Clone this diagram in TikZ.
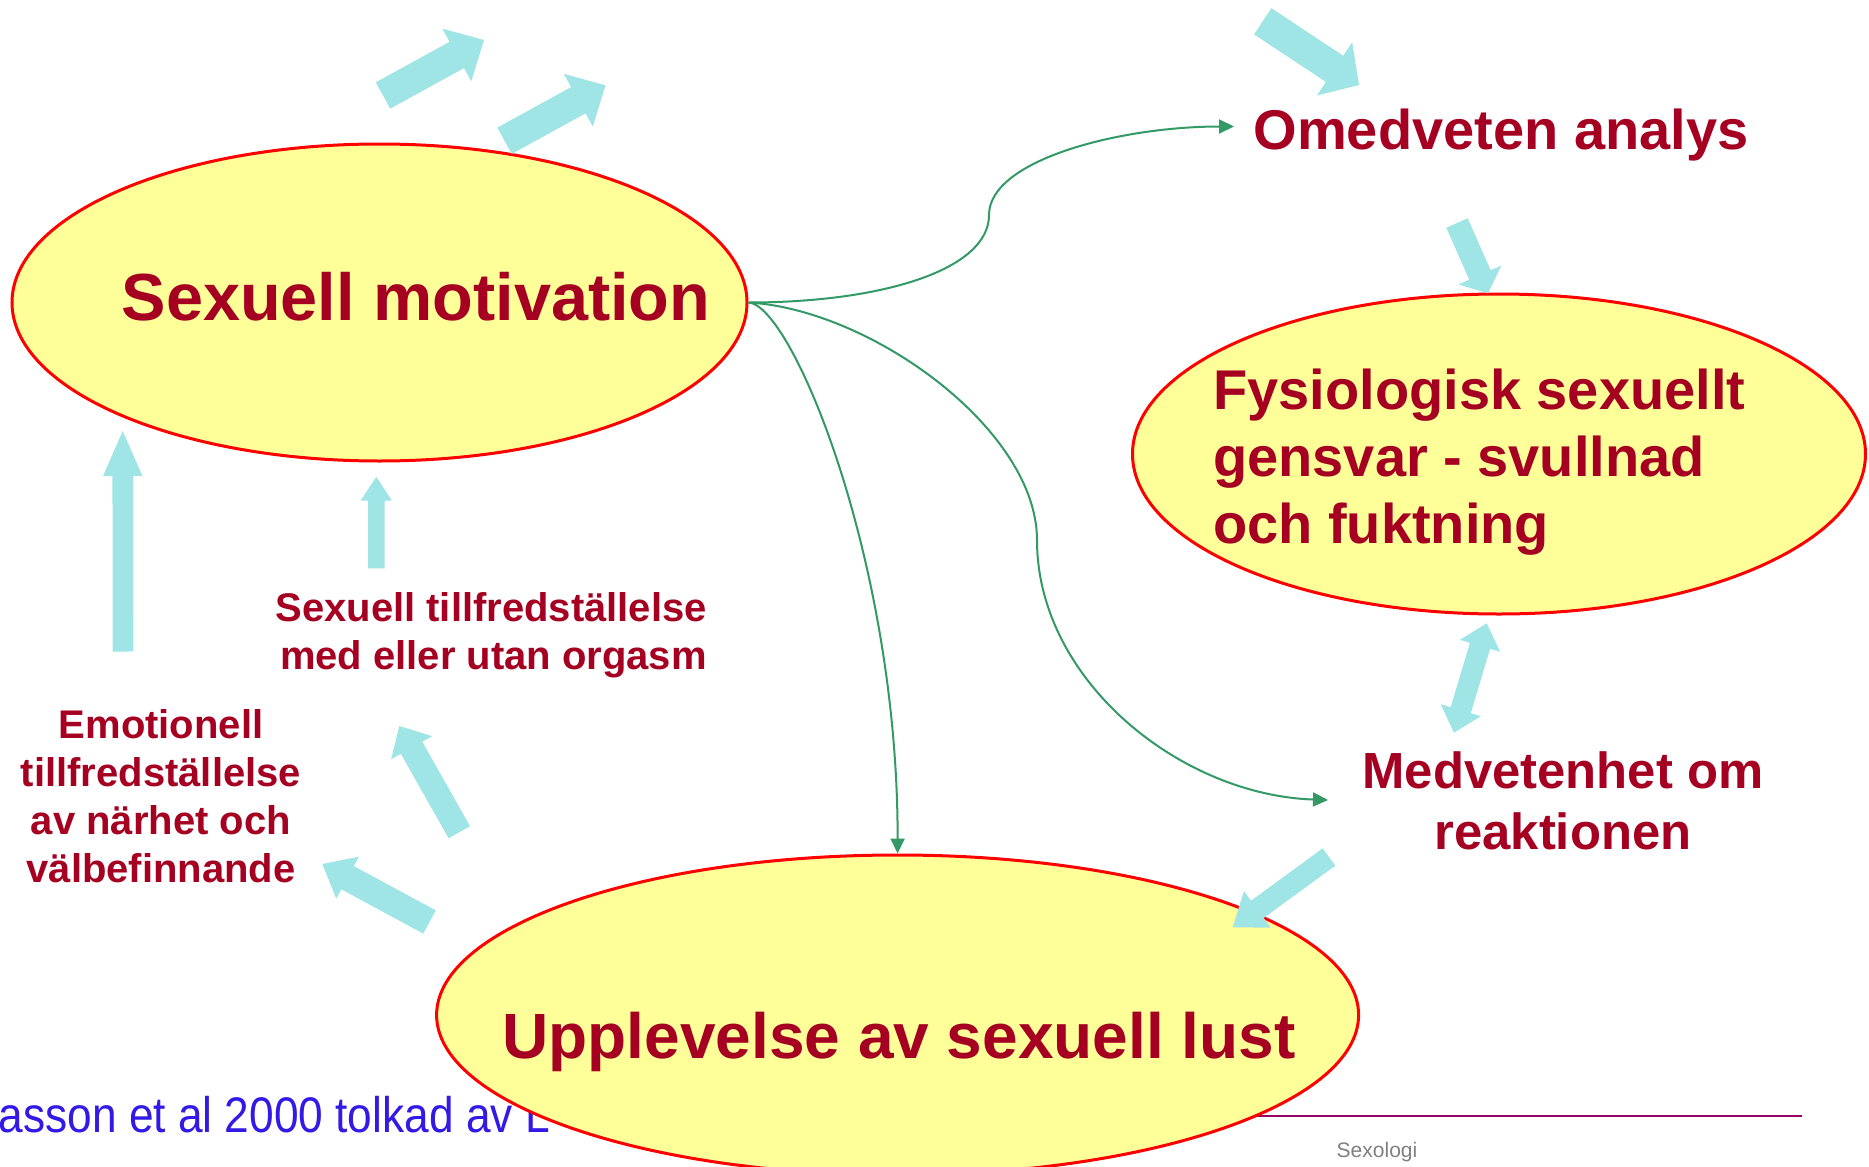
\documentclass[tikz,border=0pt]{standalone}
\usepackage{fontspec}
\setmainfont{Liberation Sans}
\usetikzlibrary{shapes.geometric,arrows.meta,calc}
\definecolor{txtred}{HTML}{A50021}
\definecolor{ellfill}{HTML}{FFFF99}
\definecolor{ellline}{HTML}{FF0000}
\definecolor{arrcyan}{HTML}{9FE5E6}
\definecolor{conngreen}{HTML}{339966}
\definecolor{refblue}{HTML}{3319E6}
\definecolor{rulepurple}{HTML}{990066}
\definecolor{footgray}{HTML}{808080}
\tikzset{
  ell/.style={ellipse, draw=ellline, fill=ellfill, line width=3pt, inner sep=0pt},
  lbl/.style={text=txtred, inner sep=0pt},
  conn/.style={draw=conngreen, line width=2pt, -{Triangle[length=15pt,width=14pt]}},
}
\newcommand\blockarr[5]{%
  \path (#1) coordinate (bA) (#2) coordinate (bB);
  \path ($(bB)!#5!(bA)$) coordinate (bH);
  \fill[arrcyan] ($(bA)!#3!90:(bB)$) -- ($(bH)!#3!90:(bB)$) -- ($(bH)!#4!90:(bB)$) -- (bB)
    -- ($(bH)!#4!-90:(bB)$) -- ($(bH)!#3!-90:(bB)$) -- ($(bA)!#3!-90:(bB)$) -- cycle;
}
\newcommand\dblarr[5]{%
  \path (#1) coordinate (bA) (#2) coordinate (bB);
  \path ($(bB)!#5!(bA)$) coordinate (bH) ($(bA)!#5!(bB)$) coordinate (bG);
  \fill[arrcyan] ($(bG)!#3!90:(bB)$) -- ($(bH)!#3!90:(bB)$) -- ($(bH)!#4!90:(bB)$) -- (bB)
    -- ($(bH)!#4!-90:(bB)$) -- ($(bH)!#3!-90:(bB)$) -- ($(bG)!#3!-90:(bB)$)
    -- ($(bG)!#4!-90:(bB)$) -- (bA) -- ($(bG)!#4!90:(bB)$) -- cycle;
}
\begin{document}
\begin{tikzpicture}[x=1pt,y=-1pt]
\useasboundingbox (0,0) rectangle (1869,1167);
\clip (0,0) rectangle (1869,1167);
\fill[white] (0,0) rectangle (1869,1167);

% footer items (under the bottom ellipse)
\node[anchor=base west, inner sep=0pt, text=refblue, font=\fontsize{50}{60}\selectfont] (ref) at (-1.5,1132) {\scalebox{0.885}[1]{asson et al 2000 tolkad av L}};
\coordinate (ruleA) at (1000,1116);
\coordinate (ruleB) at (1802,1116);
\draw[rulepurple, line width=2pt] (ruleA) -- (ruleB);
\node[anchor=base, inner sep=0pt, text=footgray, font=\fontsize{21}{25}\selectfont] (foot) at (1377,1157) {Sexologi};

% ellipses
\node[ell, minimum width=735pt, minimum height=317pt] (mot) at (379.5,302.5) {};
\node[ell, minimum width=733pt, minimum height=320pt] (fys) at (1499,454) {};
\node[ell, minimum width=922pt, minimum height=320pt] (upp) at (897.6,1015) {};

% labels
\node[lbl, anchor=base, font=\fontsize{66.6}{80}\selectfont\bfseries] (motT) at (416,320.6) {Sexuell motivation};
\node[lbl, anchor=base, font=\fontsize{56}{67}\selectfont\bfseries] (oma) at (1501,149) {Omedveten analys};
\node[lbl, anchor=base west, font=\fontsize{56}{67}\selectfont\bfseries] (fysT) at (1213,409)
  {\begin{tabular}[t]{@{}l@{}}Fysiologisk sexuellt\\gensvar - svullnad\\och fuktning\end{tabular}};
\node[lbl, anchor=base east, font=\fontsize{40}{48}\selectfont\bfseries] (stf) at (707,621)
  {\begin{tabular}[t]{@{}r@{}}Sexuell tillfredställelse\\med eller utan orgasm\end{tabular}};
\node[lbl, anchor=base, font=\fontsize{40}{48}\selectfont\bfseries] (emo) at (161,738)
  {\begin{tabular}[t]{@{}c@{}}Emotionell\\tillfredställelse\\av närhet och\\välbefinnande\end{tabular}};
\node[lbl, anchor=base, font=\fontsize{50.8}{61}\selectfont\bfseries] (med) at (1563,788)
  {\begin{tabular}[t]{@{}c@{}}Medvetenhet om\\reaktionen\end{tabular}};
\node[lbl, anchor=base, font=\fontsize{64}{77}\selectfont\bfseries] (uppT) at (899,1058.5) {Upplevelse av sexuell lust};

% green connectors
\coordinate (omaIn) at (1234,126.5);
\coordinate (medIn) at (1328,800);
\draw[conn] (mot.east) .. controls +(133,0) and (989,270) .. (989,215)
  .. controls (989,160) and (1120,126.5) .. (omaIn);
\draw[conn] (mot.east) .. controls +(43,2) and (898,560) .. (upp.north);
\draw[conn] (mot.east) .. controls +(123,7) and (1037,430) .. (1037,540)
  .. controls (1037,680) and (1180,795) .. (medIn);

% cyan block arrows
\blockarr{383,95.5}{484,40}{15pt}{30pt}{31pt}
\blockarr{504.5,140.8}{605.5,85.3}{15pt}{30pt}{31pt}
\blockarr{1262.7,21.3}{1359,85}{15.7pt}{31.9pt}{29.3pt}
\blockarr{1457,223}{1488,293.3}{11.7pt}{23.4pt}{20pt}
\dblarr{1454,732.7}{1486.7,623.3}{10.5pt}{21pt}{23.5pt}
\blockarr{1329,857}{1232.7,927.3}{10.7pt}{22.7pt}{30.5pt}
\blockarr{123,651.5}{122.7,431}{10.3pt}{19.7pt}{45pt}
\blockarr{376.3,568.3}{376.3,476.7}{8.3pt}{15.7pt}{24pt}
\blockarr{459.3,832.2}{399.3,726}{12.3pt}{23.6pt}{25pt}
\blockarr{429.5,922}{322.3,864}{13.2pt}{23.8pt}{28.7pt}
\end{tikzpicture}
\end{document}
